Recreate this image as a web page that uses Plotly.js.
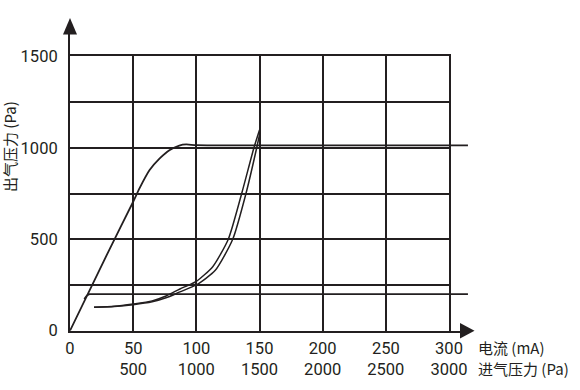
<!DOCTYPE html>
<html>
<head>
<meta charset="utf-8">
<script src="https://cdn.plot.ly/plotly-3.0.1.min.js"></script>
<style>html,body{margin:0;padding:0;background:#fff;}#chart{width:580px;height:390px;}</style>
</head>
<body>
<div id="chart"></div>
<script>
// ---- data ----
// tick labels
const xTickVals = [0, 50, 100, 150, 200, 250, 300];
const xTickCurrent = ['0', '50', '100', '150', '200', '250', '300'];          // 电流 (mA)
const xTickInlet = ['', '500', '1000', '1500', '2000', '2500', '3000'];      // 进气压力 (Pa)
const yTickVals = [0, 250, 500, 750, 1000, 1250, 1500];
const yTickText = ['0', '', '500', '', '1000', '', '1500'];

// curve A: output pressure, saturating near 1013 Pa
const satHighX = [0, 31, 50, 55, 63, 71, 79, 86.5, 92, 100, 200, 315];
const satHighY = [0, 441, 705, 778, 878, 942, 988, 1012, 1018, 1014, 1013, 1013];
// curve B: output pressure, limited at 200 Pa
const satLowX = [11.3, 13.3, 15.3, 100, 200, 315];
const satLowY = [173, 192, 200, 200, 200, 200];
// curves C / D: pressure vs current (rising and falling branch)
const riseX = [19, 35, 50, 65, 76, 87, 100, 113, 125.3, 135.9, 145.6, 150];
const riseY = [128, 133, 146, 163, 190, 228, 270, 350, 500, 750, 1000, 1097];
const fallX = [19, 35, 50, 65, 76, 87, 100, 115, 128.8, 139.3, 147.8, 150.6];
const fallY = [128, 132, 142, 158, 180, 212, 250, 330, 500, 750, 1000, 1090];

// ---- layout geometry ----
const W = 580, H = 390;
const gx0 = 70, gx1 = 449;      // grid area px (x)
const gy0 = 330.7, gy1 = 56.3;  // grid area px (y, bottom/top)
const xScale = (gx1 - gx0) / 300;
const yScale = (gy0 - gy1) / 1500;
const dx1 = 470, dy1 = 34;      // data area reaches under the arrows

const ink = '#231f20';
const cjkFam = '"Noto Sans CJK SC", "Noto Sans", sans-serif';
const numFam = 'Roboto, "Liberation Sans", sans-serif';

const xTickText = xTickCurrent.map((c, i) => xTickInlet[i] ? c + '<br>' + xTickInlet[i] : c);

const lineStyle = {color: ink, width: 1.8, shape: 'spline', smoothing: 0.6};
const thinStyle = {color: ink, width: 1.5, shape: 'spline', smoothing: 0.6};
const traces = [
  {x: riseX, y: riseY, xaxis: 'x', yaxis: 'y', mode: 'lines', line: thinStyle, hoverinfo: 'skip'},
  {x: fallX, y: fallY, xaxis: 'x', yaxis: 'y', mode: 'lines', line: thinStyle, hoverinfo: 'skip'},
  {x: satHighX, y: satHighY, xaxis: 'x2', yaxis: 'y2', mode: 'lines', line: lineStyle, hoverinfo: 'skip'},
  {x: satLowX, y: satLowY, xaxis: 'x2', yaxis: 'y2', mode: 'lines', line: {color: ink, width: 1.8}, hoverinfo: 'skip'}
];

const px = v => v / W, py = v => 1 - v / H;
const triY = `M ${px(63)},${py(34.5)} L ${px(77)},${py(34.5)} L ${px(70)},${py(18)} Z`;
const triX = `M ${px(460)},${py(323)} L ${px(460)},${py(338.5)} L ${px(474.5)},${py(330.7)} Z`;

const layout = {
  width: W, height: H,
  margin: {l: 0, r: 0, t: 0, b: 0},
  paper_bgcolor: '#ffffff',
  plot_bgcolor: 'rgba(0,0,0,0)',
  showlegend: false,
  font: {family: numFam, color: ink, size: 16},
  xaxis: {
    domain: [px(gx0), px(gx1)], range: [0, 300], anchor: 'y',
    tickvals: xTickVals, ticktext: xTickText, ticks: '', ticklabelstandoff: 1,
    tickfont: {size: 16.5, color: ink, family: numFam},
    showgrid: true, gridcolor: ink, gridwidth: 2, zeroline: false,
    showline: true, mirror: true, linecolor: ink, linewidth: 2, fixedrange: true
  },
  yaxis: {
    domain: [py(gy0), py(gy1)], range: [0, 1500], anchor: 'x',
    tickvals: yTickVals, ticktext: yTickText, ticks: '', ticklabelstandoff: 7,
    tickfont: {size: 16.5, color: ink, family: numFam},
    showgrid: true, gridcolor: ink, gridwidth: 2, zeroline: false,
    showline: true, mirror: true, linecolor: ink, linewidth: 2, fixedrange: true
  },
  xaxis2: {
    domain: [px(gx0), px(dx1)], range: [0, (dx1 - gx0) / xScale], anchor: 'y2',
    showgrid: false, zeroline: false, showticklabels: false, ticks: '',
    showline: true, linecolor: ink, linewidth: 2, fixedrange: true
  },
  yaxis2: {
    domain: [py(gy0), py(dy1)], range: [0, (gy0 - dy1) / yScale], anchor: 'x2',
    showgrid: false, zeroline: false, showticklabels: false, ticks: '',
    showline: true, linecolor: ink, linewidth: 2, fixedrange: true
  },
  shapes: [
    {type: 'path', xref: 'paper', yref: 'paper', path: triY, fillcolor: ink, line: {width: 0}},
    {type: 'path', xref: 'paper', yref: 'paper', path: triX, fillcolor: ink, line: {width: 0}}
  ],
  annotations: [
    {xref: 'paper', yref: 'paper', x: px(9), y: py(147), text: '出气压力 (Pa)', textangle: -90,
     showarrow: false, xanchor: 'center', yanchor: 'middle', font: {size: 15, color: ink, family: cjkFam}},
    {xref: 'paper', yref: 'paper', x: px(476), y: py(347), text: '电流 (mA)',
     showarrow: false, xanchor: 'left', yanchor: 'middle', font: {size: 15, color: ink, family: cjkFam}},
    {xref: 'paper', yref: 'paper', x: px(476), y: py(368.5), text: '进气压力 (Pa)',
     showarrow: false, xanchor: 'left', yanchor: 'middle', font: {size: 15, color: ink, family: cjkFam}}
  ]
};

Plotly.newPlot('chart', traces, layout, {staticPlot: true, displayModeBar: false});
</script>
</body>
</html>
